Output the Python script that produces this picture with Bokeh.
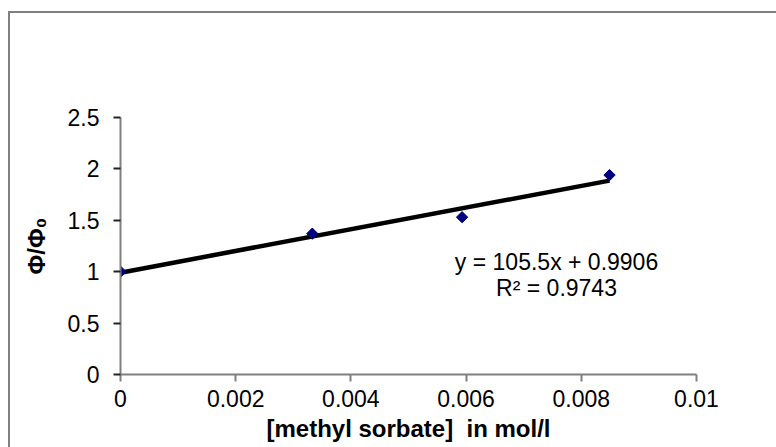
import math

from bokeh.plotting import figure
from bokeh.layouts import column
from bokeh.models import FixedTicker, Label
from bokeh.embed import file_html
from bokeh.resources import INLINE

# Measured quantum-yield ratio vs. quencher concentration
conc = [0.0, 0.00333, 0.00593, 0.00849]
phi_ratio = [1.0, 1.37, 1.53, 1.94]

# Linear trendline parameters
slope = 105.5
intercept = 0.9906
r_squared = 0.9743

x_ticks = [0.0, 0.002, 0.004, 0.006, 0.008, 0.01]
x_tick_labels = ["0", "0.002", "0.004", "0.006", "0.008", "0.01"]
y_ticks = [0.0, 0.5, 1.0, 1.5, 2.0, 2.5]
y_tick_labels = ["0", "0.5", "1", "1.5", "2", "2.5"]

FONT = "Liberation Sans"
AXIS_GRAY = "#808080"

p = figure(
    width=766, height=434,
    x_range=(0, 0.01), y_range=(0, 2.5),
    output_backend="svg", toolbar_location=None,
    min_border_left=110, min_border_right=80,
    min_border_top=104, min_border_bottom=73,
)
p.outline_line_color = None
p.xgrid.visible = False
p.ygrid.visible = False
p.background_fill_color = "white"
p.border_fill_color = "white"

# Axes
p.xaxis.ticker = FixedTicker(ticks=x_ticks)
p.xaxis.major_label_overrides = dict(zip(x_ticks, x_tick_labels))
p.yaxis.ticker = FixedTicker(ticks=y_ticks)
p.yaxis.major_label_overrides = dict(zip(y_ticks, y_tick_labels))

for ax in (p.xaxis, p.yaxis):
    ax.axis_line_color = AXIS_GRAY
    ax.axis_line_width = 2
    ax.major_tick_line_color = AXIS_GRAY
    ax.major_tick_line_width = 2
    ax.major_tick_in = 0
    ax.major_tick_out = 7
    ax.minor_tick_line_color = None
    ax.major_label_text_font = FONT
    ax.major_label_text_font_size = "23px"
    ax.major_label_text_color = "black"
    ax.axis_label_text_font = FONT
    ax.axis_label_text_font_size = "24px"
    ax.axis_label_text_font_style = "bold"
    ax.axis_label_text_color = "black"

p.yaxis.major_tick_line_color = "#222222"
p.xaxis.major_label_standoff = 8
p.yaxis.major_label_standoff = 14
p.xaxis.axis_label = "[methyl sorbate] \u00a0in mol/l"
p.yaxis.axis_label = "Φ/Φ₀"
p.xaxis.axis_label_standoff = 5
p.yaxis.axis_label_standoff = 15

# Trendline over the measured range
x_fit = [min(conc), max(conc)]
y_fit = [slope * x + intercept for x in x_fit]
p.line(x_fit, y_fit, line_color="black", line_width=4.5)

# Data points (square markers turned into diamonds)
p.scatter(conc, phi_ratio, marker="square", angle=math.pi / 4, size=8,
          fill_color="#000080", line_color="#000080")

# Trendline equation
p.add_layout(Label(
    x=0.00757, y=1.099, text=f"y = {slope}x + {intercept}",
    text_align="center", text_baseline="alphabetic",
    text_font=FONT, text_font_size="23px", text_color="black",
))
p.add_layout(Label(
    x=0.00757, y=0.845, text=f"R² = {r_squared}",
    text_align="center", text_baseline="alphabetic",
    text_font=FONT, text_font_size="23px", text_color="black",
))

# Chart-area frame: grey rule along the top and left edges of a wrapper
chart = column(p, styles={
    "position": "absolute",
    "left": "8px",
    "top": "11px",
    "border-left": f"2px solid {AXIS_GRAY}",
    "border-top": f"2px solid {AXIS_GRAY}",
})

open("out.html", "w").write(file_html(chart, INLINE))
